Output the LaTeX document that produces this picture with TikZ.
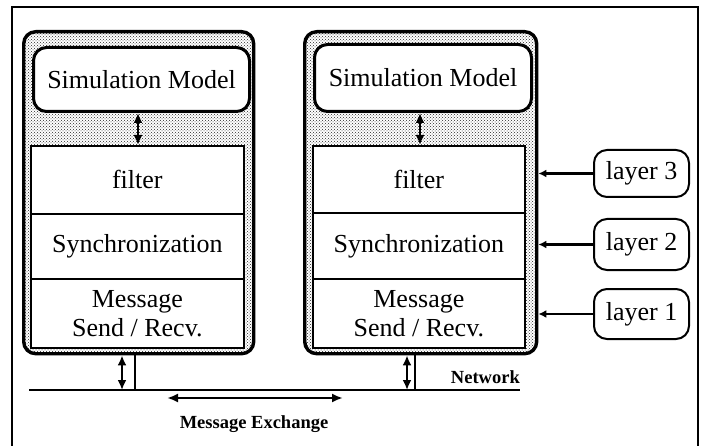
\documentclass[tikz,border=0pt]{standalone}
\usepackage{fontspec}
\setmainfont{Liberation Serif}
\usetikzlibrary{patterns,arrows.meta}

\tikzset{
  host/.style={draw, line width=3.4pt, rounded corners=12pt, inner sep=0pt,
    anchor=north west, preaction={fill=white},
    pattern=crosshatch dots, pattern color=black!85},
  model/.style={draw, fill=white, line width=3pt, rounded corners=13pt,
    inner sep=0pt, anchor=north west, font=\fontsize{26}{29}\selectfont},
  stage/.style={draw, fill=white, line width=1.7pt, inner sep=0pt,
    anchor=north west, align=center, font=\fontsize{26}{29}\selectfont},
  tag/.style={draw, fill=white, line width=2pt, rounded corners=13pt,
    inner sep=0pt, anchor=north west, font=\fontsize{26}{29}\selectfont},
  link/.style={line width=2.2pt, {Latex[length=10pt,width=9pt]}-{Latex[length=10pt,width=9pt]}},
  wire/.style={line width=2.2pt},
  feed/.style={line width=2.2pt, -{Latex[length=8pt,width=8pt]}},
  caption/.style={font=\bfseries\fontsize{18.5}{20}\selectfont, inner sep=0pt}
}

\begin{document}
\begin{tikzpicture}[x=1pt,y=-1pt]
  \useasboundingbox (0,0) rectangle (703,446);
  % frame
  \draw[line width=1.2pt] (12,460) -- (12,7) -- (698,7) -- (698,460);

  % left host
  \node[host, minimum width=230pt, minimum height=322pt] (hostL) at (22,30) {};
  \node[model, minimum width=216pt, minimum height=64pt] (simL) at (32,46) {Simulation Model};
  \node[stage, minimum width=213pt, minimum height=68pt] (filL) at (30,145) {filter};
  \node[stage, minimum width=213pt, minimum height=65pt] (synL) at (30,213) {Synchronization};
  \node[stage, minimum width=213pt, minimum height=69pt] (msgL) at (30,278) {Message\\Send / Recv.};
  \draw[link] (simL.south -| 138,0) -- (filL.north -| 138,0);

  % right host
  \node[host, minimum width=232pt, minimum height=322pt] (hostR) at (303,30) {};
  \node[model, minimum width=217pt, minimum height=67pt] (simR) at (313,43) {Simulation Model};
  \node[stage, minimum width=212pt, minimum height=67pt] (filR) at (312,145) {filter};
  \node[stage, minimum width=212pt, minimum height=66pt] (synR) at (312,212) {Synchronization};
  \node[stage, minimum width=212pt, minimum height=69pt] (msgR) at (312,278) {Message\\Send / Recv.};
  \draw[link] (simR.south -| 420,0) -- (filR.north -| 420,0);

  % layer labels
  \node[tag, minimum width=95pt, minimum height=47pt] (lay3) at (593,149) {layer 3};
  \node[tag, minimum width=95pt, minimum height=51pt] (lay2) at (593,218) {layer 2};
  \node[tag, minimum width=95pt, minimum height=50pt] (lay1) at (593,288) {layer 1};
  \draw[feed] (lay3.west) -- (lay3.west -| hostR.east);
  \draw[feed] (lay2.west) -- (lay2.west -| hostR.east);
  \draw[feed] (lay1.west) -- (lay1.west -| hostR.east);

  % network bus
  \coordinate (netA) at (29,390);
  \coordinate (netB) at (520,390);
  \draw[line width=2.4pt] (netA) -- (netB);
  \node[caption, anchor=south east] (netlbl) at (520,384) {Network};

  % host to bus connections
  \draw[link] (hostL.south -| 122,0) -- (netA -| 122,0);
  \draw[wire] (hostL.south -| 135,0) -- (netA -| 135,0);
  \draw[link] (hostR.south -| 407,0) -- (netA -| 407,0);
  \draw[wire] (hostR.south -| 415,0) -- (netA -| 415,0);

  % message exchange
  \coordinate (exA) at (167,398);
  \coordinate (exB) at (343,398);
  \draw[line width=2.2pt, {Latex[length=11pt,width=9pt]}-{Latex[length=11pt,width=9pt]}] (exA) -- (exB);
  \node[caption] (exlbl) at (254,424) {Message Exchange};
\end{tikzpicture}
\end{document}
